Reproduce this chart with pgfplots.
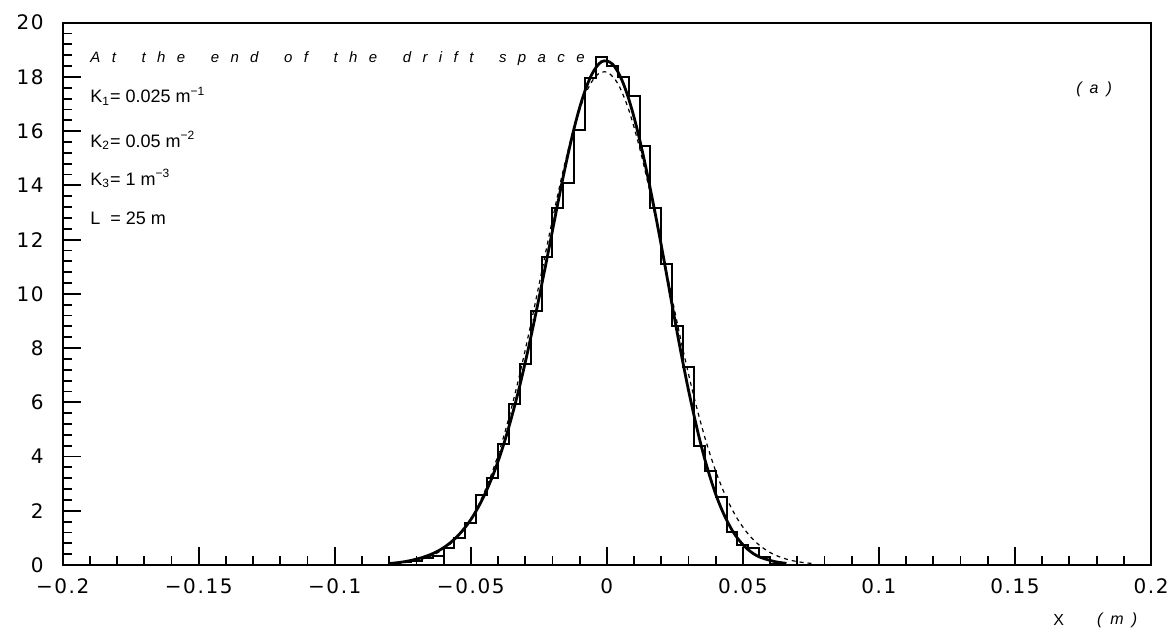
\documentclass[border=0pt]{standalone}
\usepackage{fontspec}
\setmainfont{Liberation Sans}
\newfontfamily\tickfont{DejaVu Sans}[LetterSpace=8]
\newfontfamily\annfont{Liberation Sans}[LetterSpace=76]
\newfontfamily\afont{Liberation Sans}[LetterSpace=50]
\usepackage{pgfplots}
\pgfplotsset{compat=1.18}
\newcommand{\wg}{\hspace{5pt}}
\begin{document}
\begin{tikzpicture}
\begin{axis}[
  width=544.15pt, height=271.15pt, scale only axis,
  xmin=-0.2, xmax=0.2, ymin=0, ymax=20,
  xtick={-0.2,-0.15,-0.1,-0.05,0,0.05,0.1,0.15,0.2},
  xticklabels={−0.2,−0.15,−0.1,−0.05,0,0.05,0.1,0.15,0.2},
  ytick={0,2,4,6,8,10,12,14,16,18,20},
  yticklabels={0,2,4,6,8,10,12,14,16,18,20},
  minor x tick num=4, minor y tick num=4,
  tick align=inside, tick pos=left,
  major tick length=9pt, minor tick length=4.5pt,
  tick style={black, line width=0.9pt},
  axis line style={line width=1pt},
  ticklabel style={font=\tickfont\fontsize{10}{11}\selectfont},
  xticklabel style={yshift=-3.5pt},
  yticklabel style={xshift=-6pt},
]
% histogram (left bin edges)
\addplot[const plot, line width=1pt, black] coordinates {
(-0.084,0) (-0.080,0.06) (-0.076,0.10) (-0.072,0.15) (-0.068,0.25)
(-0.064,0.32) (-0.060,0.62) (-0.056,1.00) (-0.052,1.55) (-0.048,2.60)
(-0.044,3.20) (-0.040,4.47) (-0.036,5.95) (-0.032,7.40) (-0.028,9.35)
(-0.024,11.36) (-0.020,13.17) (-0.016,14.10) (-0.012,16.05) (-0.008,17.95)
(-0.004,18.75) (0.000,18.40) (0.004,18.00) (0.008,17.28) (0.012,15.44)
(0.016,13.15) (0.020,11.10) (0.024,8.80) (0.028,7.30) (0.032,4.40)
(0.036,3.45) (0.040,2.50) (0.044,1.20) (0.048,0.75) (0.052,0.62)
(0.056,0.28) (0.060,0.05) (0.064,0)
};
% solid curve
\addplot[smooth, line width=1.4pt, black] coordinates {
(-0.080,0.055) (-0.078,0.074) (-0.076,0.098) (-0.074,0.128) (-0.072,0.168)
(-0.070,0.216) (-0.068,0.271) (-0.066,0.339) (-0.064,0.421) (-0.062,0.519)
(-0.060,0.640) (-0.058,0.784) (-0.056,0.957) (-0.054,1.160) (-0.052,1.397)
(-0.050,1.676) (-0.048,2.000) (-0.046,2.373) (-0.044,2.799) (-0.042,3.277)
(-0.040,3.820) (-0.038,4.425) (-0.036,5.095) (-0.034,5.829) (-0.032,6.616)
(-0.030,7.472) (-0.028,8.376) (-0.026,9.326) (-0.024,10.31) (-0.022,11.31)
(-0.020,12.33) (-0.018,13.35) (-0.016,14.34) (-0.014,15.27) (-0.012,16.12)
(-0.010,16.87) (-0.008,17.50) (-0.006,18.00) (-0.004,18.35) (-0.002,18.56)
(0.000,18.59) (0.002,18.48) (0.004,18.20) (0.006,17.77) (0.008,17.20)
(0.010,16.51) (0.012,15.71) (0.014,14.82) (0.016,13.86) (0.018,12.85)
(0.020,11.79) (0.022,10.69) (0.024,9.58) (0.026,8.49) (0.028,7.44)
(0.030,6.45) (0.032,5.53) (0.034,4.67) (0.036,3.90) (0.038,3.22)
(0.040,2.61) (0.042,2.10) (0.044,1.66) (0.046,1.29) (0.048,0.99)
(0.050,0.75) (0.052,0.56) (0.054,0.41) (0.056,0.30) (0.058,0.23)
(0.060,0.17) (0.062,0.12) (0.064,0.087) (0.066,0.062)
};
% dashed gaussian
\addplot[smooth, line width=0.6pt, black, dash pattern=on 2pt off 2pt] coordinates {
(-0.080,0.038) (-0.076,0.070) (-0.072,0.125) (-0.068,0.216) (-0.064,0.361)
(-0.060,0.585) (-0.056,0.918) (-0.052,1.394) (-0.048,2.053) (-0.044,2.930)
(-0.040,4.051) (-0.036,5.427) (-0.032,7.045) (-0.028,8.860) (-0.024,10.79)
(-0.020,12.74) (-0.016,14.57) (-0.012,16.15) (-0.008,17.34) (-0.004,18.04)
(0.000,18.18) (0.004,17.76) (0.008,16.80) (0.012,15.40) (0.016,13.68)
(0.020,11.77) (0.024,9.82) (0.028,7.93) (0.032,6.21) (0.036,4.71)
(0.040,3.46) (0.044,2.463) (0.048,1.699) (0.052,1.135) (0.056,0.735)
(0.060,0.461) (0.064,0.281) (0.068,0.165) (0.072,0.094) (0.076,0.052)
};
\node[anchor=base west, inner sep=0, font=\annfont\itshape\fontsize{7.5}{9}\selectfont]
  at (rel axis cs:0.0251,0.9275) {At\wg{} the\wg{} end\wg{} of\wg{} the\wg{} drift\wg{} space};
\node[anchor=base west, inner sep=0, font=\fontsize{9}{10}\selectfont]
  at (rel axis cs:0.0251,0.852) {K\textsubscript{1}= 0.025 m\textsuperscript{−1}};
\node[anchor=base west, inner sep=0, font=\fontsize{9}{10}\selectfont]
  at (rel axis cs:0.0251,0.7708) {K\textsubscript{2}= 0.05 m\textsuperscript{−2}};
\node[anchor=base west, inner sep=0, font=\fontsize{9}{10}\selectfont]
  at (rel axis cs:0.0251,0.7007) {K\textsubscript{3}= 1 m\textsuperscript{−3}};
\node[anchor=base west, inner sep=0, font=\fontsize{9}{10}\selectfont]
  at (rel axis cs:0.0251,0.627) {L \ = 25 m};
\node[anchor=base west, inner sep=0, font=\afont\itshape\fontsize{8}{9}\selectfont]
  at (rel axis cs:0.931,0.87) {(a)};
\coordinate (bl) at (rel axis cs:0,0);
\coordinate (tr) at (rel axis cs:1,1);
\end{axis}
\node[inner sep=0, font=\fontsize{8}{9}\selectfont] at ([shift={(498pt,-27.5pt)}]bl) {X};
\node[anchor=west, inner sep=0, font=\afont\itshape\fontsize{8}{9}\selectfont] at ([shift={(517pt,-27.5pt)}]bl) {(m)};
\pgfresetboundingbox
\path ([shift={(-31.35pt,-34pt)}]bl) rectangle ([shift={(11.5pt,11.35pt)}]tr);
\end{tikzpicture}
\end{document}
